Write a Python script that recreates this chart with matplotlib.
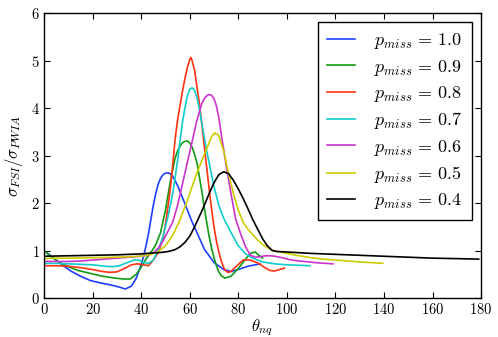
import numpy as np
import matplotlib
matplotlib.use('Agg')
import matplotlib.pyplot as plt

plt.rcParams['font.family'] = 'cmr10'
plt.rcParams['mathtext.fontset'] = 'cm'
plt.rcParams['axes.formatter.use_mathtext'] = True

# p_miss = 1.0
th_10 = [0, 2, 5, 8, 11, 15, 19, 23, 28, 31, 33.5, 36, 38, 40, 41, 42, 43, 44, 45, 46, 47, 48, 49, 50, 51, 52, 53, 54, 55, 57, 59, 61, 63, 66, 70, 74, 77, 80, 84, 89]
v_10 = [1.0, 0.92, 0.8, 0.68, 0.57, 0.46, 0.37, 0.32, 0.27, 0.23, 0.19, 0.25, 0.42, 0.7, 0.88, 1.1, 1.35, 1.65, 1.95, 2.2, 2.4, 2.52, 2.6, 2.63, 2.64, 2.62, 2.56, 2.47, 2.37, 2.12, 1.86, 1.6, 1.38, 1.03, 0.75, 0.6, 0.56, 0.6, 0.67, 0.72]
# p_miss = 0.9
th_09 = [0, 3, 6, 10, 14, 19, 24, 29, 33, 35.5, 38, 40, 42, 44, 46, 48, 50, 52, 54, 55, 56, 57, 58, 59, 60, 61, 62, 63, 64, 65, 66, 67, 68, 69, 70, 71, 72, 73, 74.5, 77, 80, 83, 85, 87, 88.5, 90]
v_09 = [1.0, 0.87, 0.76, 0.66, 0.58, 0.52, 0.46, 0.42, 0.4, 0.4, 0.5, 0.65, 0.82, 0.96, 1.12, 1.38, 1.85, 2.45, 2.95, 3.1, 3.2, 3.27, 3.3, 3.31, 3.27, 3.18, 3.03, 2.85, 2.55, 2.25, 1.9, 1.6, 1.3, 1.05, 0.85, 0.68, 0.55, 0.47, 0.42, 0.46, 0.62, 0.82, 0.94, 0.97, 0.9, 0.84]
# p_miss = 0.8
th_08 = [0, 5, 10, 15, 20, 24, 27, 30, 33, 36, 38.5, 41, 43, 45, 47, 49, 50, 51, 52, 53, 54, 55, 56, 57, 58, 59, 60, 60.5, 61, 62, 63, 64, 65, 66, 67, 68, 69, 70, 71, 72, 73, 74, 75, 76, 77, 79, 82, 85, 88, 91, 93, 95, 97, 99]
v_08 = [0.68, 0.68, 0.67, 0.64, 0.6, 0.56, 0.54, 0.55, 0.62, 0.7, 0.72, 0.7, 0.68, 0.8, 0.95, 1.25, 1.55, 1.9, 2.3, 2.8, 3.35, 3.75, 4.05, 4.35, 4.62, 4.85, 5.03, 5.07, 5.0, 4.8, 4.45, 4.1, 3.65, 3.2, 2.75, 2.3, 1.88, 1.5, 1.2, 0.97, 0.78, 0.64, 0.56, 0.54, 0.56, 0.66, 0.8, 0.8, 0.74, 0.64, 0.58, 0.57, 0.6, 0.63]
# p_miss = 0.7
th_07 = [0, 5, 10, 15, 20, 25, 28, 31, 34, 37, 39, 41, 43, 45, 47, 49, 51, 53, 54, 55, 56, 57, 58, 59, 60, 61, 62, 63, 64, 65, 66, 67, 68, 70, 72, 74, 77, 80, 83, 86, 90, 95, 100, 105, 109.5]
v_07 = [0.73, 0.73, 0.72, 0.71, 0.7, 0.67, 0.66, 0.68, 0.74, 0.8, 0.8, 0.75, 0.73, 0.8, 1.0, 1.3, 1.7, 2.2, 2.55, 2.9, 3.3, 3.7, 4.0, 4.25, 4.4, 4.43, 4.38, 4.22, 3.98, 3.68, 3.38, 3.1, 2.85, 2.35, 1.95, 1.68, 1.38, 1.1, 0.93, 0.84, 0.76, 0.72, 0.7, 0.69, 0.68]
# p_miss = 0.6
th_06 = [0, 5, 10, 15, 20, 25, 30, 35, 40, 43, 45, 47, 49, 51, 53, 55, 57, 59, 61, 63, 65, 66, 67, 68, 69, 70, 71, 72, 73, 75, 77, 79, 81, 83, 85, 87, 89, 91, 93, 95, 98, 101, 105, 109, 113, 116, 119]
v_06 = [0.77, 0.77, 0.77, 0.78, 0.8, 0.82, 0.84, 0.86, 0.88, 0.9, 0.95, 1.05, 1.2, 1.4, 1.6, 1.95, 2.4, 2.85, 3.3, 3.75, 4.1, 4.2, 4.26, 4.29, 4.27, 4.2, 4.05, 3.8, 3.45, 2.8, 2.2, 1.65, 1.35, 1.08, 0.9, 0.86, 0.87, 0.89, 0.89, 0.88, 0.85, 0.81, 0.78, 0.76, 0.74, 0.73, 0.72]
# p_miss = 0.5
th_05 = [0, 5, 10, 20, 30, 40, 44, 47, 50, 53, 56, 59, 62, 65, 67, 69, 70.4, 72, 74, 76, 78, 80, 82, 84, 86, 88, 90, 93, 96, 100, 105, 110, 115, 120, 125, 130, 135, 139.5]
v_05 = [0.83, 0.84, 0.84, 0.85, 0.86, 0.88, 0.92, 0.98, 1.1, 1.32, 1.65, 2.05, 2.5, 2.9, 3.15, 3.4, 3.48, 3.42, 3.1, 2.62, 2.2, 1.85, 1.6, 1.45, 1.33, 1.22, 1.13, 1.03, 0.98, 0.94, 0.89, 0.85, 0.82, 0.8, 0.78, 0.76, 0.745, 0.73]
# p_miss = 0.4
th_04 = [0, 10, 20, 30, 40, 45, 48, 50, 52, 54, 56, 58, 60, 62, 64, 66, 68, 70, 72, 74, 76, 78, 80, 82, 84, 86, 88, 90, 92, 94, 96, 100, 110, 120, 130, 140, 150, 160, 170, 179]
v_04 = [0.88, 0.89, 0.9, 0.91, 0.93, 0.95, 0.96, 0.97, 0.99, 1.02, 1.08, 1.17, 1.3, 1.5, 1.72, 1.95, 2.2, 2.43, 2.6, 2.66, 2.62, 2.48, 2.3, 2.1, 1.88, 1.65, 1.45, 1.25, 1.1, 1.0, 0.98, 0.97, 0.94, 0.92, 0.9, 0.88, 0.86, 0.84, 0.83, 0.82]

pmiss = ['1.0', '0.9', '0.8', '0.7', '0.6', '0.5', '0.4']
colors = ['#1f3fff', '#139a13', '#ff3311', '#10cccc', '#cc33cc', '#cccc00', '#000000']
curves = [(th_10, v_10), (th_09, v_09), (th_08, v_08), (th_07, v_07),
          (th_06, v_06), (th_05, v_05), (th_04, v_04)]

fig = plt.figure(figsize=(4.98, 3.37), dpi=100)
ax = fig.add_axes([0.0884, 0.1157, 0.966 - 0.0884, 0.9605 - 0.1157])

for (th, v), p, c in zip(curves, pmiss, colors):
    ax.plot(th, v, color=c, lw=1.2, label=r'$p_{miss}\,=\,%s$' % p)

ax.set_xlim(0, 180)
ax.set_ylim(0, 6)
ax.set_xticks(np.arange(0, 181, 20))
ax.set_yticks(np.arange(0, 7, 1))
ax.tick_params(direction='in', top=True, right=True, length=4, width=0.8, labelsize=10.5, pad=3)
for s in ax.spines.values():
    s.set_linewidth(1.0)

ax.set_xlabel(r'$\theta_{nq}$', fontsize=12, labelpad=0)
ax.set_ylabel(r'$\sigma_{FSI}/\sigma_{PWIA}$', fontsize=12, labelpad=4)

leg = ax.legend(loc='upper right', fontsize=13, fancybox=False, handlelength=1.5,
                handletextpad=1.1, labelspacing=0.35, borderpad=0.5, framealpha=1)
leg.get_frame().set_edgecolor('black')
leg.get_frame().set_linewidth(1.0)

fig.savefig('out.png', dpi=100)
